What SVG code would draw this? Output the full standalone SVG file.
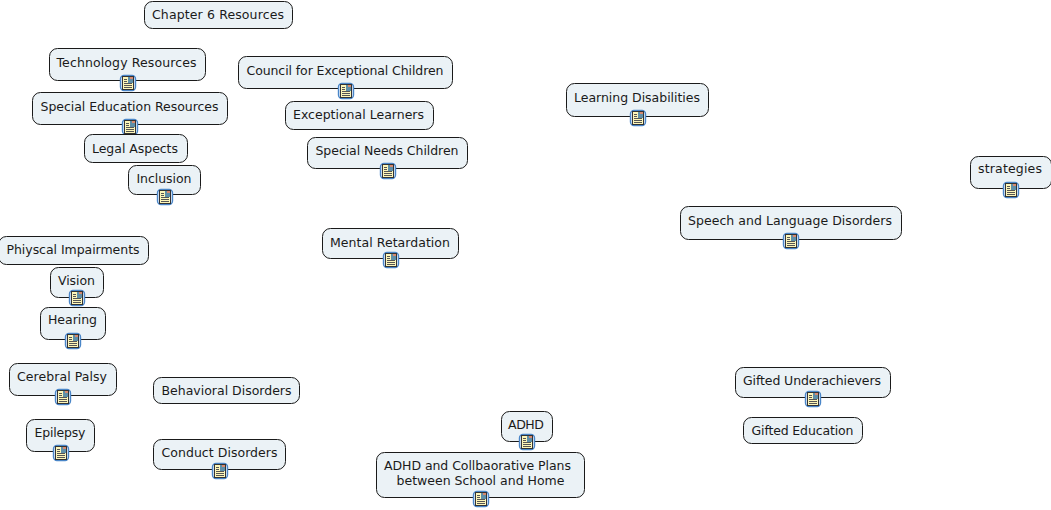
<svg xmlns="http://www.w3.org/2000/svg" width="1051" height="510" viewBox="0 0 1051 510">
<style>
.b{fill:#ebf2f6;stroke:#1a1a1a;stroke-width:1}
text{font-family:"DejaVu Sans",sans-serif;font-size:12.5px;fill:#1a1a1a;text-anchor:middle}
</style>
<defs>
<g id="ic">
<rect x="-7.500" y="-7.500" width="15" height="15" rx="3.5" fill="#e4eefa" stroke="#4a86c8" stroke-width="1.4"/>
<rect x="-5.500" y="-6.500" width="11" height="13" fill="#fdf6b8" stroke="#333" stroke-width="1"/>
<rect x="0" y="-6" width="5" height="6" fill="#5f8fa8"/>
<rect x="2" y="-6" width="3" height="2" fill="#d88a70"/>
<path d="M-4-3.500h3M-4-1.500h3M-4 .5h8M-4 2.500h8M-4 4.500h8" stroke="#555" stroke-width="1" fill="none"/>
</g>
</defs>
<rect width="1051" height="510" fill="#fff"/>
<g id="connectors"/>
<g id="n1"><rect class="b" x="144.500" y="1.500" width="148" height="27" rx="8"/><text x="218" y="19" textLength="132">Chapter 6 Resources</text></g>
<g id="n2"><rect class="b" x="49.500" y="48.500" width="156" height="32" rx="8"/><text x="126.500" y="67" textLength="140">Technology Resources</text><use href="#ic" x="128" y="83"/></g>
<g id="n3"><rect class="b" x="32.500" y="92.500" width="195" height="32" rx="8"/><text x="129.500" y="111" textLength="178">Special Education Resources</text><use href="#ic" x="130" y="127"/></g>
<g id="n4"><rect class="b" x="84.500" y="134.500" width="103" height="28" rx="8"/><text x="135" y="153" textLength="86">Legal Aspects</text></g>
<g id="n5"><rect class="b" x="128.500" y="165.500" width="72" height="29" rx="8"/><text x="164" y="183" textLength="55">Inclusion</text><use href="#ic" x="165" y="197"/></g>
<g id="n6"><rect class="b" x="238.500" y="56.500" width="214" height="32" rx="8"/><text x="345" y="75" textLength="197">Council for Exceptional Children</text><use href="#ic" x="346" y="91"/></g>
<g id="n7"><rect class="b" x="285.500" y="101.500" width="148" height="28" rx="8"/><text x="358.500" y="119" textLength="131">Exceptional Learners</text></g>
<g id="n8"><rect class="b" x="307.500" y="137.500" width="160" height="31" rx="8"/><text x="387" y="155" textLength="143">Special Needs Children</text><use href="#ic" x="388" y="171"/></g>
<g id="n9"><rect class="b" x="566.500" y="83.500" width="142" height="33" rx="8"/><text x="637" y="102" textLength="126">Learning Disabilities</text><use href="#ic" x="638" y="118"/></g>
<g id="n10"><rect class="b" x="970.500" y="156.500" width="81" height="32" rx="8"/><text x="1010" y="173" textLength="64">strategies</text><use href="#ic" x="1011" y="190"/></g>
<g id="n11"><rect class="b" x="680.500" y="206.500" width="221" height="33" rx="8"/><text x="790" y="225" textLength="204">Speech and Language Disorders</text><use href="#ic" x="791" y="241"/></g>
<g id="n12"><rect class="b" x="322.500" y="228.500" width="136" height="30" rx="8"/><text x="390" y="247" textLength="120">Mental Retardation</text><use href="#ic" x="391" y="260"/></g>
<g id="n13"><rect class="b" x="-1.500" y="236.500" width="150" height="28" rx="8"/><text x="73" y="254" textLength="133">Phiyscal Impairments</text></g>
<g id="n14"><rect class="b" x="50.500" y="267.500" width="53" height="30" rx="8"/><text x="76.500" y="285" textLength="37">Vision</text><use href="#ic" x="77" y="298"/></g>
<g id="n15"><rect class="b" x="40.500" y="307.500" width="65" height="32" rx="8"/><text x="72.500" y="324" textLength="49">Hearing</text><use href="#ic" x="73" y="341"/></g>
<g id="n16"><rect class="b" x="9.500" y="363.500" width="107" height="32" rx="8"/><text x="62" y="381" textLength="90">Cerebral Palsy</text><use href="#ic" x="63" y="397"/></g>
<g id="n17"><rect class="b" x="26.500" y="419.500" width="68" height="32" rx="8"/><text x="60" y="437" textLength="51">Epilepsy</text><use href="#ic" x="61" y="453"/></g>
<g id="n18"><rect class="b" x="153.500" y="377.500" width="146" height="26" rx="8"/><text x="226.500" y="395" textLength="130">Behavioral Disorders</text></g>
<g id="n19"><rect class="b" x="153.500" y="439.500" width="132" height="30" rx="8"/><text x="219.500" y="457" textLength="116">Conduct Disorders</text><use href="#ic" x="220" y="471"/></g>
<g id="n20"><rect class="b" x="501.500" y="411.500" width="51" height="30" rx="8"/><text x="526" y="429" textLength="36">ADHD</text><use href="#ic" x="527" y="442"/></g>
<g id="n21"><rect class="b" x="376.500" y="452.500" width="208" height="45" rx="8"/><text x="477.500" y="470" textLength="187">ADHD and Collbaorative Plans</text><text x="480.500" y="485" textLength="168">between School and Home</text><use href="#ic" x="481" y="499"/></g>
<g id="n22"><rect class="b" x="735.500" y="367.500" width="155" height="30" rx="8"/><text x="812" y="385" textLength="138">Gifted Underachievers</text><use href="#ic" x="813" y="399"/></g>
<g id="n23"><rect class="b" x="743.500" y="417.500" width="119" height="26" rx="8"/><text x="802.500" y="435" textLength="102">Gifted Education</text></g>
</svg>
